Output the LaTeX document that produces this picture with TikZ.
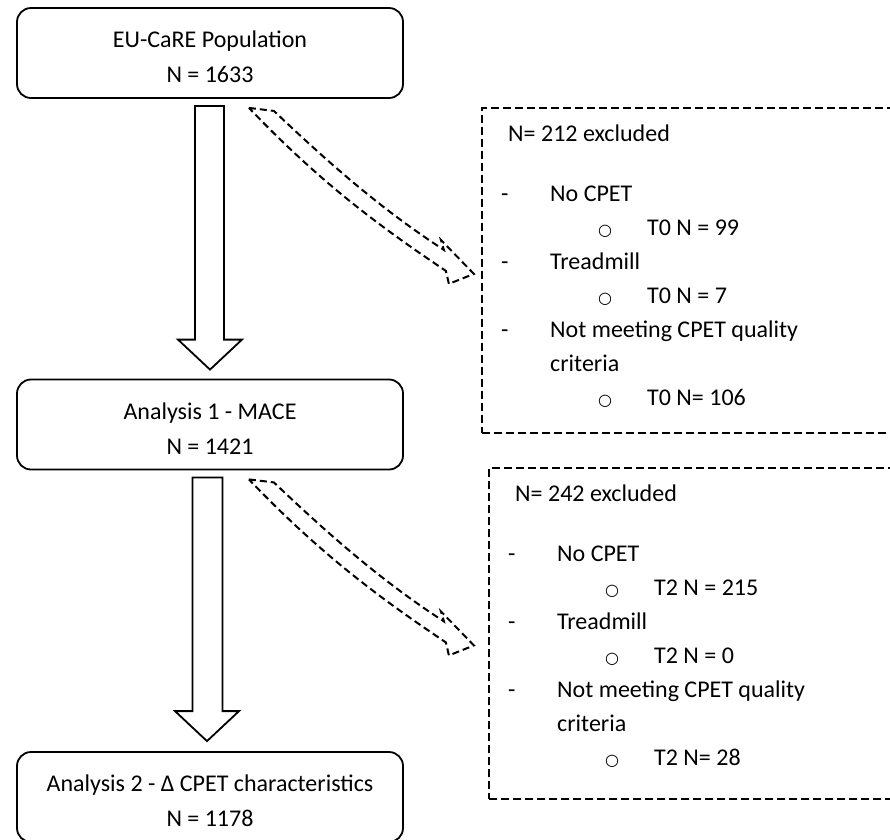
\documentclass[tikz,border=0pt]{standalone}
\usepackage{fontspec}
\setmainfont{Carlito}
\newfontfamily\symfont{DejaVu Sans}
\usetikzlibrary{calc}
\tikzset{
  flowbox/.style={draw, line width=1.8pt, rounded corners=14pt, minimum width=386pt,
    minimum height=90pt, inner sep=0pt},
  boxtext/.style={inner sep=0pt, align=center, font=\fontsize{24}{35}\selectfont},
  exbox/.style={draw, line width=2pt, dash pattern=on 8pt off 4pt, anchor=north west, inner sep=0pt},
  blockarrow/.style={draw, line width=1.8pt, fill=white, line join=miter},
  dasharrow/.style={draw, line width=2pt, dash pattern=on 7pt off 4pt, line join=miter},
  txt/.style={anchor=base west, inner sep=0pt, font=\fontsize{24}{29}\selectfont},
  bul/.style={anchor=base, inner sep=0pt, font=\fontsize{16}{19}\symfont},
  exarrow/.pic={
    \draw[dasharrow] (-155,9) -- (-130,12) .. controls (-70,69) and (-20,112) .. (40,151)
      -- (37,141) -- (70,175) -- (45,185) -- (42,172)
      .. controls (-28,125) and (-85,82) .. (-155,9) -- cycle;
  }
}
\newcommand\exlist[5]{%
  \node[txt] (#1h) at ($(#1.north west)+(27,34)$) {#2};
  \node[txt] (#1d1) at ($(#1.north west)+(20,94)$) {-};
  \node[txt] (#1a) at ($(#1.north west)+(69,94)$) {No CPET};
  \node[bul] (#1o1) at ($(#1.north west)+(124,128)$) {○};
  \node[txt] (#1a1) at ($(#1.north west)+(166,128)$) {#3};
  \node[txt] (#1d2) at ($(#1.north west)+(20,162)$) {-};
  \node[txt] (#1b) at ($(#1.north west)+(69,162)$) {Treadmill};
  \node[bul] (#1o2) at ($(#1.north west)+(124,196)$) {○};
  \node[txt] (#1b1) at ($(#1.north west)+(166,196)$) {#4};
  \node[txt] (#1d3) at ($(#1.north west)+(20,230)$) {-};
  \node[txt] (#1c) at ($(#1.north west)+(69,230)$) {Not meeting CPET quality};
  \node[txt] (#1cc) at ($(#1.north west)+(69,264)$) {criteria};
  \node[bul] (#1o3) at ($(#1.north west)+(124,298)$) {○};
  \node[txt] (#1c1) at ($(#1.north west)+(166,298)$) {#5};
}
\begin{document}
\begin{tikzpicture}[x=1pt,y=-1pt]
\useasboundingbox (0,0) rectangle (890,839);

\node[flowbox] (b1) at (210,53) {};
\node[flowbox] (b2) at (210,424.5) {};
\node[flowbox] (b3) at (210,797) {};
\node[boxtext] (b1t) at ($(b1)+(0,4)$) {EU-CaRE Population\\N = 1633};
\node[boxtext] (b2t) at ($(b2)+(0,4)$) {Analysis 1 - MACE\\N = 1421};
\node[boxtext] (b3t) at ($(b3)+(0,4)$) {Analysis 2 - Δ CPET characteristics\\N = 1178};

\node[exbox, minimum width=440pt, minimum height=325pt] (d1) at (481,107) {};
\node[exbox, minimum width=440pt, minimum height=331pt] (d2) at (488,467) {};

\exlist{d1}{N= 212 excluded}{T0 N = 99}{T0 N = 7}{T0 N= 106}
\exlist{d2}{N= 242 excluded}{T2 N = 215}{T2 N = 0}{T2 N= 28}

\draw[blockarrow] ($(b1.south)+(-15,7)$) -- ($(b2.north)+(-15,-39)$) -- ($(b2.north)+(-32,-39)$)
  -- ($(b2.north)+(0,-9)$) -- ($(b2.north)+(32,-39)$) -- ($(b2.north)+(14,-39)$)
  -- ($(b1.south)+(14,7)$) -- cycle;
\draw[blockarrow] ($(b2.south)+(-17.5,7)$) -- ($(b3.north)+(-17.5,-40)$) -- ($(b3.north)+(-35,-40)$)
  -- ($(b3.north)+(-3,-10)$) -- ($(b3.north)+(29,-40)$) -- ($(b3.north)+(12.5,-40)$)
  -- ($(b2.south)+(12.5,7)$) -- cycle;

\pic at (b1.south east) {exarrow};
\pic at (b2.south east) {exarrow};
\end{tikzpicture}
\end{document}
